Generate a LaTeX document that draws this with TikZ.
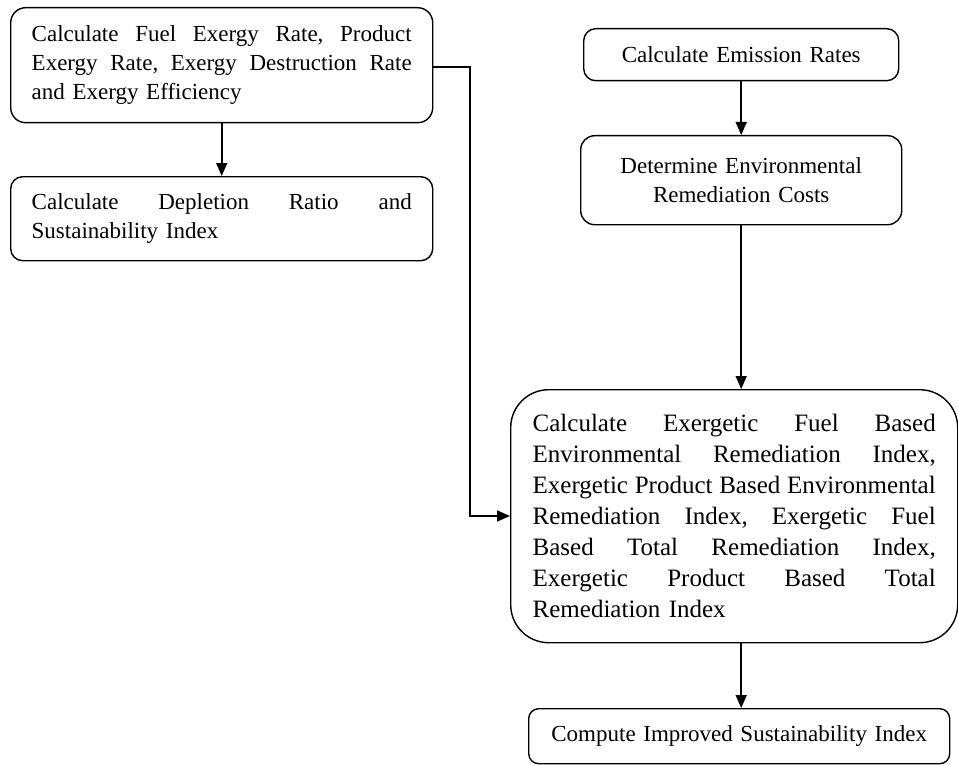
\documentclass[tikz,border=0pt]{standalone}
\usepackage{fontspec}
\setmainfont{Liberation Serif}
\usetikzlibrary{arrows.meta}
\newcommand{\jl}[2]{\leavevmode\hbox to #1{#2}}
\begin{document}
\begin{tikzpicture}[x=1pt,y=-1pt,
  box/.style={draw, line width=1.4pt, inner sep=0pt, anchor=north west,
    align=left, font=\fontsize{23}{29}\selectfont},
  cbox/.style={box, align=center},
  conn/.style={line width=1.6pt, -{Triangle[length=13pt,width=11pt]}}]
\useasboundingbox (0,0) rectangle (958,765);

\node[box, minimum width=422pt, minimum height=115pt, text width=380pt, rounded corners=15pt] (A) at (10,7)
  {\jl{380pt}{Calculate\hfill Fuel\hfill Exergy\hfill Rate,\hfill Product}\\
   \jl{380pt}{Exergy\hfill Rate,\hfill Exergy\hfill Destruction\hfill Rate}\\
   and Exergy Efficiency};

\node[box, minimum width=422pt, minimum height=84pt, text width=380pt, rounded corners=12pt] (B) at (10,176)
  {\jl{380pt}{Calculate\hfill Depletion\hfill Ratio\hfill and}\\
   Sustainability Index};

\node[cbox, minimum width=315pt, minimum height=52pt, text width=300pt, rounded corners=12pt] (C) at (583,28)
  {Calculate Emission Rates};

\node[cbox, minimum width=321pt, minimum height=89pt, text width=300pt, rounded corners=14pt] (D) at (580,135)
  {Determine Environmental\\Remediation Costs};

\node[box, minimum width=447pt, minimum height=253pt, text width=403pt, rounded corners=38pt,
  font=\fontsize{25}{31}\selectfont] (E) at (510,389)
  {\jl{403pt}{Calculate\hfill Exergetic\hfill Fuel\hfill Based}\\
   \jl{403pt}{Environmental\hfill Remediation\hfill Index,}\\
   \jl{403pt}{Exergetic\hfill Product\hfill Based\hfill Environmental}\\
   \jl{403pt}{Remediation\hfill Index,\hfill Exergetic\hfill Fuel}\\
   \jl{403pt}{Based\hfill Total\hfill Remediation\hfill Index,}\\
   \jl{403pt}{Exergetic\hfill Product\hfill Based\hfill Total}\\
   Remediation Index};

\node[cbox, minimum width=421pt, minimum height=55pt, text width=400pt, rounded corners=10pt] (F) at (528,708)
  {Compute Improved Sustainability Index};

\coordinate (k1) at (470,67);
\coordinate (k2) at (470,516);

\draw[conn] (A.south) -- (B.north);
\draw[conn] (A.east |- k1) -- (k1) -- (k2) -- (E.west |- k2);
\draw[conn] (C.south) -- (D.north);
\draw[conn] (D.south) -- (D.south |- E.north);
\draw[conn] (D.south |- E.south) -- (D.south |- F.north);
\end{tikzpicture}
\end{document}
